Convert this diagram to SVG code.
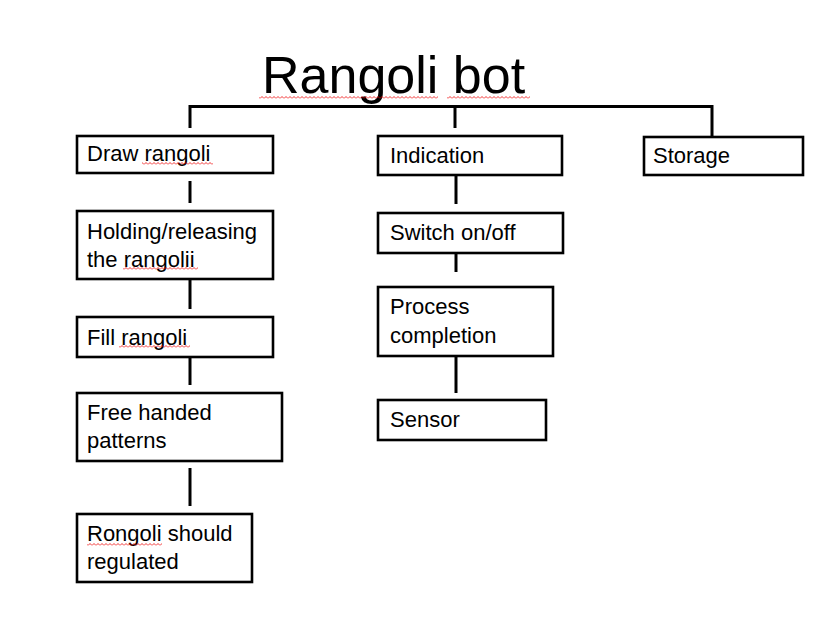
<svg xmlns="http://www.w3.org/2000/svg" width="824" height="641" viewBox="0 0 824 641">
<style>
.box{fill:#fff;stroke:#000;stroke-width:2.6}
.t{font-family:"Liberation Sans",Arial,sans-serif;font-size:22px;fill:#000}
.title{font-family:"Liberation Sans",Arial,sans-serif;font-size:52px;fill:#000}
.c{stroke:#000;stroke-width:3;fill:none}
</style>
<defs>
<pattern id="sq" width="4" height="3" patternUnits="userSpaceOnUse"><path d="M0,2.5 L2,0.5 L4,2.5" fill="none" stroke="#e00" stroke-width="0.8"/></pattern>
</defs>
<rect width="824" height="641" fill="#fff"/>
<g id="title">
<text class="title" x="262" y="93">Rangoli bot</text>
<rect x="259" y="96" width="179" height="3" fill="url(#sq)"/>
<rect x="447" y="96" width="83" height="3" fill="url(#sq)"/>
</g>
<g id="connectors">
<path class="c" d="M190,128 V106.5 H712 V136"/>
<path class="c" d="M455,106.5 V128"/>
<path class="c" d="M190,181 V203"/>
<path class="c" d="M190,279 V309"/>
<path class="c" d="M190,357 V385"/>
<path class="c" d="M190,468 V506"/>
<path class="c" d="M456,175 V204"/>
<path class="c" d="M456,250 V272"/>
<path class="c" d="M456,356 V393"/>
</g>
<g id="draw">
<rect class="box" x="77" y="136" width="196" height="37"/>
<text class="t" x="87" y="161">Draw rangoli</text>
<rect x="142" y="162" width="71" height="3" fill="url(#sq)"/>
</g>
<g id="holding">
<rect class="box" x="77" y="211" width="196" height="68"/>
<text class="t" x="87" y="239">Holding/releasing</text>
<text class="t" x="87" y="267">the rangolii</text>
<rect x="123" y="267" width="75" height="3" fill="url(#sq)"/>
</g>
<g id="fill">
<rect class="box" x="77" y="317" width="196" height="40"/>
<text class="t" x="87" y="345">Fill rangoli</text>
<rect x="119" y="345" width="71" height="3" fill="url(#sq)"/>
</g>
<g id="free">
<rect class="box" x="77" y="393" width="205" height="68"/>
<text class="t" x="87" y="420">Free handed</text>
<text class="t" x="87" y="448">patterns</text>
</g>
<g id="rongoli">
<rect class="box" x="77" y="514" width="175" height="68"/>
<text class="t" x="87" y="541">Rongoli should</text>
<text class="t" x="87" y="569">regulated</text>
<rect x="87" y="543" width="75" height="3" fill="url(#sq)"/>
</g>
<g id="indication">
<rect class="box" x="378" y="136" width="184" height="39"/>
<text class="t" x="390" y="163">Indication</text>
</g>
<g id="switch">
<rect class="box" x="378" y="213" width="185" height="40"/>
<text class="t" x="390" y="240">Switch on/off</text>
</g>
<g id="process">
<rect class="box" x="378" y="287" width="175" height="69"/>
<text class="t" x="390" y="314">Process</text>
<text class="t" x="390" y="343">completion</text>
</g>
<g id="sensor">
<rect class="box" x="378" y="400" width="168" height="40"/>
<text class="t" x="390" y="427">Sensor</text>
</g>
<g id="storage">
<rect class="box" x="644" y="137" width="159" height="38"/>
<text class="t" x="653" y="163">Storage</text>
</g>
</svg>
